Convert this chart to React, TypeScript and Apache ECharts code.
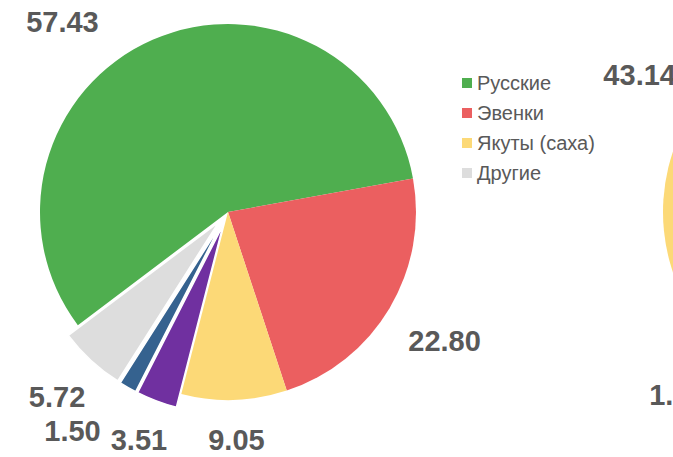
import React, { useEffect, useRef } from 'react';
import * as echarts from 'echarts';

const W = 673;
const H = 457;

// ---- data ----
const categories = ['Русские', 'Эвенки', 'Якуты (саха)', 'Украинцы', 'Кеты', 'Другие'];
const legendNames = ['Русские', 'Эвенки', 'Якуты (саха)', 'Другие'];
const sliceColors = ['#4fae4f', '#eb5f60', '#fcd977', '#7030a0', '#35628f', '#dddddd'];
const valuesA = [57.43, 22.8, 9.05, 3.51, 1.5, 5.72];
const explodedA = [false, false, false, true, true, true];
const valuesB = [5.1, 1.01, 43.14, 36.2, 2.35, 12.2];
const explodedB = [false, false, false, false, false, false];

// ---- layout ----
const FONT = '"Liberation Sans", Arial, Helvetica, sans-serif';
const LABEL_FS = 29;
const LABEL_R = 252;
const pies = [
  { cx: 228, cy: 212, r: 188, start: 217, values: valuesA, exploded: explodedA },
  { cx: 851, cy: 212, r: 188, start: 246.65, values: valuesB, exploded: explodedB },
];

type Pos = { x: number; y: number; w: number; h: number };

function computeLabelPositions(): Pos[][] {
  const canvas = document.createElement('canvas');
  const ctx = canvas.getContext('2d')!;
  ctx.font = `bold ${LABEL_FS}px ${FONT}`;
  const yMin = 22;
  const yMax = H - 17;
  const pad = 8;
  return pies.map((p) => {
    const sum = p.values.reduce((a, b) => a + b, 0);
    let a = p.start;
    const list: Pos[] = p.values.map((v) => {
      const span = (v / sum) * 360;
      const mid = a - span / 2;
      a -= span;
      const rad = (mid * Math.PI) / 180;
      const w = ctx.measureText(v.toFixed(2)).width;
      const h = LABEL_FS;
      let x = p.cx + LABEL_R * Math.cos(rad);
      let y = p.cy - LABEL_R * Math.sin(rad);
      let clamped = false;
      if (y < yMin) { y = yMin; clamped = true; }
      if (y > yMax) { y = yMax; clamped = true; }
      if (clamped) {
        const nx = Math.max(x - w / 2, Math.min(p.cx, x + w / 2));
        const ny = Math.max(y - h / 2, Math.min(p.cy, y + h / 2));
        if (Math.hypot(nx - p.cx, ny - p.cy) < p.r + pad) {
          const sgn = x < p.cx ? -1 : 1;
          x = p.cx + sgn * Math.sqrt(Math.max(0, LABEL_R * LABEL_R - (y - p.cy) * (y - p.cy)));
        }
      }
      return { x, y, w, h };
    });
    const gap = 10;
    for (let iter = 0; iter < 10; iter++) {
      let moved = false;
      for (let i = 0; i < list.length; i++) {
        for (let j = 0; j < list.length; j++) {
          if (i === j) continue;
          const A = list[i];
          const B = list[j];
          const yOverlap = Math.abs(A.y - B.y) < (A.h + B.h) / 2;
          const xOverlap = Math.abs(A.x - B.x) < (A.w + B.w) / 2 + gap;
          if (!yOverlap || !xOverlap) continue;
          if (Math.abs(A.x - p.cx) < Math.abs(B.x - p.cx)) continue;
          const sgn = A.x < p.cx ? -1 : 1;
          A.x = B.x + sgn * ((A.w + B.w) / 2 + gap);
          moved = true;
        }
      }
      if (!moved) break;
    }
    return list;
  });
}

const TRANSPARENT = 'rgba(0,0,0,0)';

export default function App() {
  const ref = useRef<HTMLDivElement>(null);
  useEffect(() => {
    if (!ref.current) return;
    const positions = computeLabelPositions();
    const chart = echarts.init(ref.current, undefined, { renderer: 'svg' });

    // visual pies (with exploded slices), no labels
    const visualSeries = pies.map((p) => ({
      type: 'pie',
      center: [p.cx, p.cy],
      radius: p.r,
      startAngle: p.start,
      clockwise: true,
      selectedMode: 'multiple',
      selectedOffset: 14,
      avoidLabelOverlap: false,
      silent: true,
      label: { show: false },
      labelLine: { show: false },
      itemStyle: { borderWidth: 0 },
      select: { itemStyle: { borderColor: '#ffffff', borderWidth: 1.5 } },
      emphasis: { scale: false },
      data: p.values.map((v, i) => ({
        name: categories[i],
        value: v,
        selected: p.exploded[i],
        itemStyle: { color: sliceColors[i] },
      })),
    }));

    // label-only pies (same geometry, transparent slices)
    const labelSeries = pies.map((p, si) => ({
      type: 'pie',
      center: [p.cx, p.cy],
      radius: p.r,
      startAngle: p.start,
      clockwise: true,
      selectedMode: false,
      avoidLabelOverlap: false,
      silent: true,
      z: 3,
      label: {
        show: true,
        position: 'outside',
        formatter: (d: any) => Number(d.value).toFixed(2),
        fontSize: LABEL_FS,
        fontWeight: 'bold',
        color: '#595959',
        fontFamily: FONT,
      },
      labelLine: { show: false },
      labelLayout: (prm: any) => {
        const pos = positions[si][prm.dataIndex];
        return { x: pos.x, y: pos.y, align: 'center', verticalAlign: 'middle' };
      },
      itemStyle: { color: TRANSPARENT, borderWidth: 0 },
      emphasis: { scale: false },
      data: p.values.map((v, i) => ({
        name: categories[i],
        value: v,
        itemStyle: { color: TRANSPARENT },
      })),
    }));

    chart.setOption({
      animation: false,
      backgroundColor: '#ffffff',
      legend: {
        data: legendNames.map((n) => ({
          name: n,
          itemStyle: { color: sliceColors[categories.indexOf(n)] },
        })),
        orient: 'vertical',
        left: 462,
        top: 73,
        padding: 0,
        itemWidth: 10,
        itemHeight: 10,
        itemGap: 10,
        icon: 'rect',
        selectedMode: false,
        textStyle: { fontSize: 20, color: '#595959', fontFamily: FONT },
      },
      series: [...visualSeries, ...labelSeries],
    });
    return () => chart.dispose();
  }, []);
  return (
    <div
      ref={ref}
      style={{ position: 'absolute', left: 0, top: 0, width: W, height: H }}
    />
  );
}
